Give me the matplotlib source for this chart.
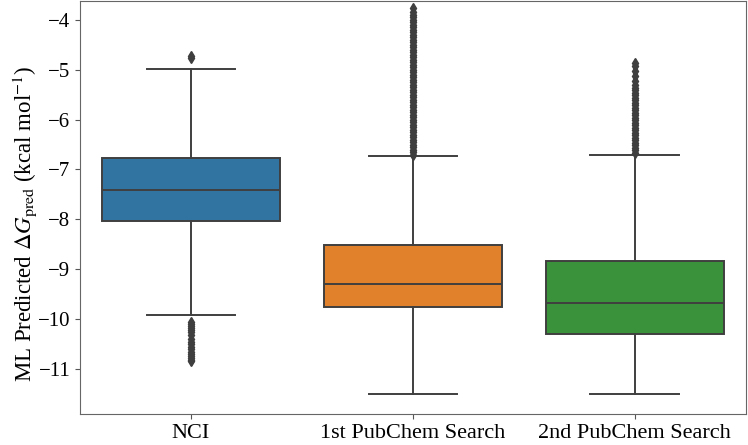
import numpy as np
import matplotlib
matplotlib.use('Agg')
import matplotlib.pyplot as plt

plt.rcParams['font.family'] = ['Liberation Serif', 'DejaVu Serif']
plt.rcParams['mathtext.fontset'] = 'stix'

# Data
categories = ['NCI', '1st PubChem Search', '2nd PubChem Search']
colors = ['#3274a1', '#e1812c', '#3a923a']
q1 = [-8.04, -9.75, -10.29]
med = [-7.41, -9.29, -9.68]
q3 = [-6.77, -8.52, -8.84]
whislo = [-9.92, -11.51, -11.51]
whishi = [-4.98, -6.72, -6.70]

fliers_nci = [-4.73, -4.76, -10.05, -10.09, -10.13, -10.17, -10.21, -10.25,
              -10.32, -10.40, -10.45, -10.50, -10.55, -10.60, -10.65, -10.70,
              -10.74, -10.78, -10.82, -10.85]
fliers_pub1 = [-6.70, -6.65, -6.60, -6.55, -6.50, -6.45, -6.40, -6.35, -6.30,
               -6.25, -6.20, -6.15, -6.10, -6.05, -6.00, -5.95, -5.90, -5.85,
               -5.80, -5.75, -5.70, -5.65, -5.60, -5.55, -5.50, -5.45, -5.40,
               -5.35, -5.30, -5.25, -5.20, -5.15, -5.10, -5.05, -5.00, -4.95,
               -4.90, -4.85, -4.80, -4.75, -4.70, -4.65, -4.60, -4.55, -4.50,
               -4.45, -4.40, -4.35, -4.30, -4.25, -4.20, -4.15, -4.10, -4.05,
               -4.00, -3.95, -3.90, -3.84, -3.76]
fliers_pub2 = [-6.66, -6.61, -6.56, -6.51, -6.46, -6.41, -6.36, -6.31, -6.26,
               -6.21, -6.16, -6.11, -6.06, -6.01, -5.96, -5.91, -5.86, -5.81,
               -5.76, -5.71, -5.66, -5.61, -5.56, -5.51, -5.46, -5.41, -5.36,
               -5.31, -5.22, -5.12, -5.02, -4.93, -4.86]
fliers = [fliers_nci, fliers_pub1, fliers_pub2]

stats = []
for i in range(3):
    stats.append({'q1': q1[i], 'med': med[i], 'q3': q3[i],
                  'whislo': whislo[i], 'whishi': whishi[i],
                  'fliers': np.array(fliers[i]), 'label': categories[i]})

fig = plt.figure(figsize=(7.48, 4.45), dpi=100)
ax = fig.add_axes([0.107, 0.07, 0.89, 0.928])

line_c = '#3f3f3f'
bp = ax.bxp(stats, positions=[0, 1, 2], widths=0.8, patch_artist=True,
            boxprops=dict(edgecolor=line_c, linewidth=1.4),
            medianprops=dict(color=line_c, linewidth=1.4),
            whiskerprops=dict(color=line_c, linewidth=1.4),
            capprops=dict(color=line_c, linewidth=1.4),
            flierprops=dict(marker='d', markerfacecolor=line_c, markeredgecolor=line_c,
                            markersize=5.5, linestyle='none'))
for patch, c in zip(bp['boxes'], colors):
    patch.set_facecolor(c)

ax.set_xlim(-0.5, 2.5)
ax.set_ylim(-11.9, -3.62)
ax.set_yticks([-11, -10, -9, -8, -7, -6, -5, -4])
ax.set_xticks([0, 1, 2])
ax.set_xticklabels(categories)
ax.tick_params(axis='y', labelsize=15, color='#555555')
ax.tick_params(axis='x', labelsize=16, color='#555555')
ax.set_ylabel(r'ML Predicted $\Delta G_{\mathrm{pred}}$ (kcal mol$^{-1}$)', fontsize=16.5,
              va='center')
ax.yaxis.set_label_coords(-0.083, 0.46)
for s in ax.spines.values():
    s.set_color('#666666')

fig.savefig('out.png', dpi=100)
